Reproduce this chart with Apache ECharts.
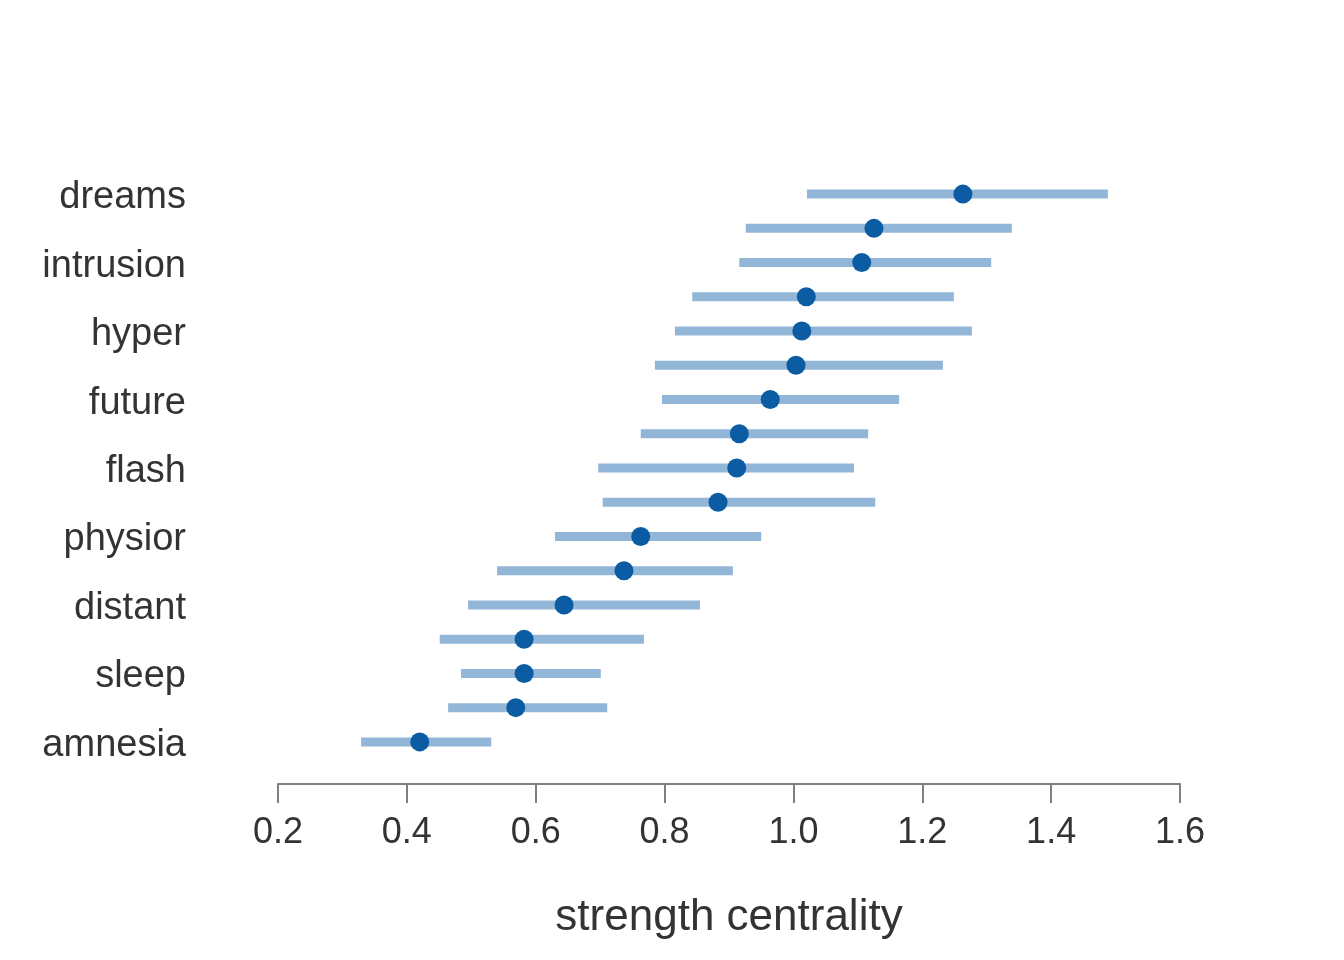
<!DOCTYPE html>
<html><head><meta charset="utf-8">
<script src="https://cdn.jsdelivr.net/npm/echarts@6/dist/echarts.min.js"></script>
<style>html,body{margin:0;padding:0;background:#fff}#c{width:1344px;height:960px}</style>
</head><body><div id="c"></div>
<script>
// bottom to top
const categories = ['amnesia','avoidact','sleep','avoidth','distant','negativ','physior','blame','flash','numb','future','interest','hyper','startle','intrusion','concen','dreams'];
const estimates = [0.420,0.569,0.582,0.582,0.644,0.737,0.763,0.883,0.912,0.916,0.964,1.004,1.013,1.020,1.106,1.125,1.263];
const lower = [0.329,0.464,0.484,0.451,0.495,0.540,0.630,0.704,0.697,0.763,0.796,0.785,0.816,0.843,0.916,0.926,1.021];
const upper = [0.531,0.711,0.701,0.768,0.855,0.906,0.950,1.127,1.094,1.116,1.164,1.232,1.277,1.249,1.307,1.339,1.488];
const xTicks = [0.2,0.4,0.6,0.8,1.0,1.2,1.4,1.6];

const font = 'Liberation Sans, Arial, Helvetica, sans-serif';
const chart = echarts.init(document.getElementById('c'));
chart.setOption({
  animation: false,
  grid: {left: 278, right: 164, top: 177, bottom: 201, containLabel: false, outerBoundsMode: 'none'},
  xAxis: {
    type: 'value', min: 0.2, max: 1.6, interval: 0.2, offset: 25, position: 'bottom',
    name: 'strength centrality', nameLocation: 'middle', nameGap: 112,
    nameTextStyle: {fontSize: 44, color: '#333', fontFamily: font},
    axisLine: {show: true, onZero: false, lineStyle: {color: '#808080', width: 2}},
    axisTick: {show: true, inside: false, length: 19, lineStyle: {color: '#808080', width: 2}},
    axisLabel: {fontSize: 36, color: '#333', fontFamily: font, margin: 31, inside: false,
      formatter: v => v.toFixed(1)},
    splitLine: {show: false}
  },
  yAxis: {
    type: 'category', data: categories,
    axisLine: {show: false}, axisTick: {show: false}, splitLine: {show: false},
    axisLabel: {interval: 1, margin: 92, formatter: v => '{a|' + v + '}',
      rich: {a: {fontSize: 38, color: '#333', fontFamily: font, padding: [7, 0, 0, 0]}}}
  },
  series: [
    {
      type: 'custom',
      data: categories.map((c, i) => [lower[i], upper[i], i]),
      renderItem: (params, api) => {
        const a = api.coord([api.value(0), api.value(2)]);
        const b = api.coord([api.value(1), api.value(2)]);
        return {type: 'line', shape: {x1: a[0], y1: a[1], x2: b[0], y2: b[1]},
          style: {stroke: '#92b6d8', lineWidth: 9}};
      },
      encode: {x: [0, 1], y: 2},
      z: 1
    },
    {
      type: 'scatter',
      data: estimates.map((v, i) => [v, i]),
      symbol: 'circle', symbolSize: 19,
      itemStyle: {color: '#0b5ca2', opacity: 1},
      z: 2
    }
  ]
});
</script></body></html>
